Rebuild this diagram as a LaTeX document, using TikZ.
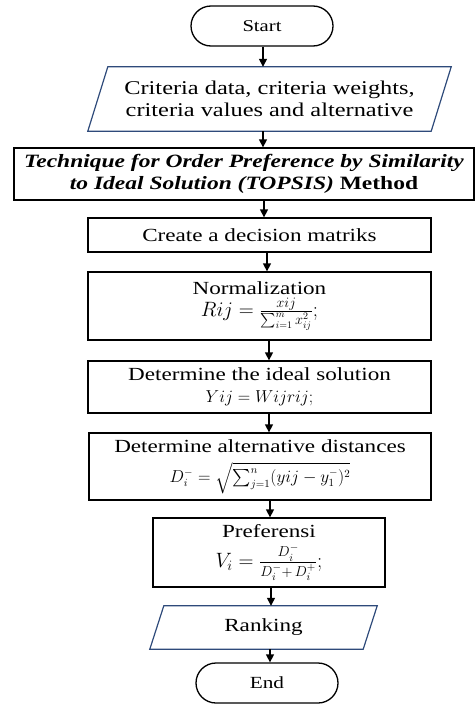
\documentclass[tikz,border=0pt]{standalone}
\usepackage{amsmath}
\usepackage{fontspec}
\setmainfont[FakeStretch=1.25]{Liberation Serif}
\usetikzlibrary{arrows.meta}
\definecolor{pblue}{HTML}{2E4A7A}
\newcommand{\fs}[2]{\fontsize{#1}{#2}\selectfont}
\begin{document}
\begin{tikzpicture}[x=1pt,y=-1pt,
  box/.style={draw=black,line width=1.3pt,inner sep=0pt,align=center,font=\fs{18.5}{22}},
  txt/.style={inner sep=0pt,align=center},
  pline/.style={draw=pblue,line width=1.2pt},
  arr/.style={line width=1.4pt,-{Triangle[length=8pt,width=8pt]}}]
\useasboundingbox (0,0) rectangle (475,704);
\node[box,rounded corners=20pt,minimum width=142pt,minimum height=40pt,font=\fs{16.5}{20}] (start) at (262,26) {Start};
\node[txt,minimum width=343pt,minimum height=64pt,font=\fs{19.5}{22.5}] (in) at (269.5,99) {Criteria data, criteria weights,\\criteria values and alternative};
\draw[pline] ([xshift=10pt]in.north west) -- ([xshift=10pt]in.north east) -- ([xshift=-10pt]in.south east) -- ([xshift=-10pt]in.south west) -- cycle;
\node[box,minimum width=460pt,minimum height=52pt,font=\fs{18.8}{22}] (topsis) at (244,174) {\textbf{\textit{Technique for Order Preference by Similarity}}\\\textbf{\textit{to Ideal Solution (TOPSIS)} Method}};
\node[box,minimum width=343pt,minimum height=34pt] (create) at (259.5,235) {Create a decision matriks};
\node[box,minimum width=343pt,minimum height=68pt] (norm) at (259.5,306) {Normalization\\[0pt] {\fs{20}{23}$Rij = \tfrac{xij}{\sum_{i=1}^{m} x_{ij}^{2}};$}};
\node[box,minimum width=343pt,minimum height=52pt] (ideal) at (259.5,387) {Determine the ideal solution\\ {\fs{19}{22}$Yij = Wijrij;$}};
\node[box,minimum width=342pt,minimum height=67pt] (dist) at (260,466.5) {Determine alternative distances\\[8pt] {\fs{16}{18}$D_i^- = \sqrt{\sum_{j=1}^{n}(yij - y_1^-)^2}$}};
\node[box,minimum width=232pt,minimum height=69pt] (pref) at (269,552.5) {Preferensi\\[6pt] {\fs{22}{24}$V_i = \tfrac{D_i^-}{D_i^- +\, D_i^+};$}};
\node[txt,minimum width=213pt,minimum height=43pt,font=\fs{18.5}{22}] (rank) at (263.5,627.5) {Ranking};
\draw[pline] ([xshift=7pt]rank.north west) -- ([xshift=7pt]rank.north east) -- ([xshift=-7pt]rank.south east) -- ([xshift=-7pt]rank.south west) -- cycle;
\node[box,rounded corners=20pt,minimum width=142pt,minimum height=40pt,font=\fs{17}{20}] (end) at (267,683) {End};
\draw[arr] ([xshift=1pt]start.south) -- ([xshift=1pt]start.south |- in.north);
\draw[arr] ([xshift=-6.5pt]in.south) -- ([xshift=-6.5pt]in.south |- topsis.north);
\draw[arr] ([xshift=20pt]topsis.south) -- ([xshift=20pt]topsis.south |- create.north);
\draw[arr] ([xshift=7.5pt]create.south) -- ([xshift=7.5pt]create.south |- norm.north);
\draw[arr] ([xshift=9.5pt]norm.south) -- ([xshift=9.5pt]norm.south |- ideal.north);
\draw[arr] ([xshift=9.5pt]ideal.south) -- ([xshift=9.5pt]ideal.south |- dist.north);
\draw[arr] ([xshift=10pt]dist.south) -- ([xshift=10pt]dist.south |- pref.north);
\draw[arr] ([xshift=2pt]pref.south) -- ([xshift=2pt]pref.south |- rank.north);
\draw[arr] ([xshift=6.5pt]rank.south) -- ([xshift=6.5pt]rank.south |- end.north);
\end{tikzpicture}
\end{document}
